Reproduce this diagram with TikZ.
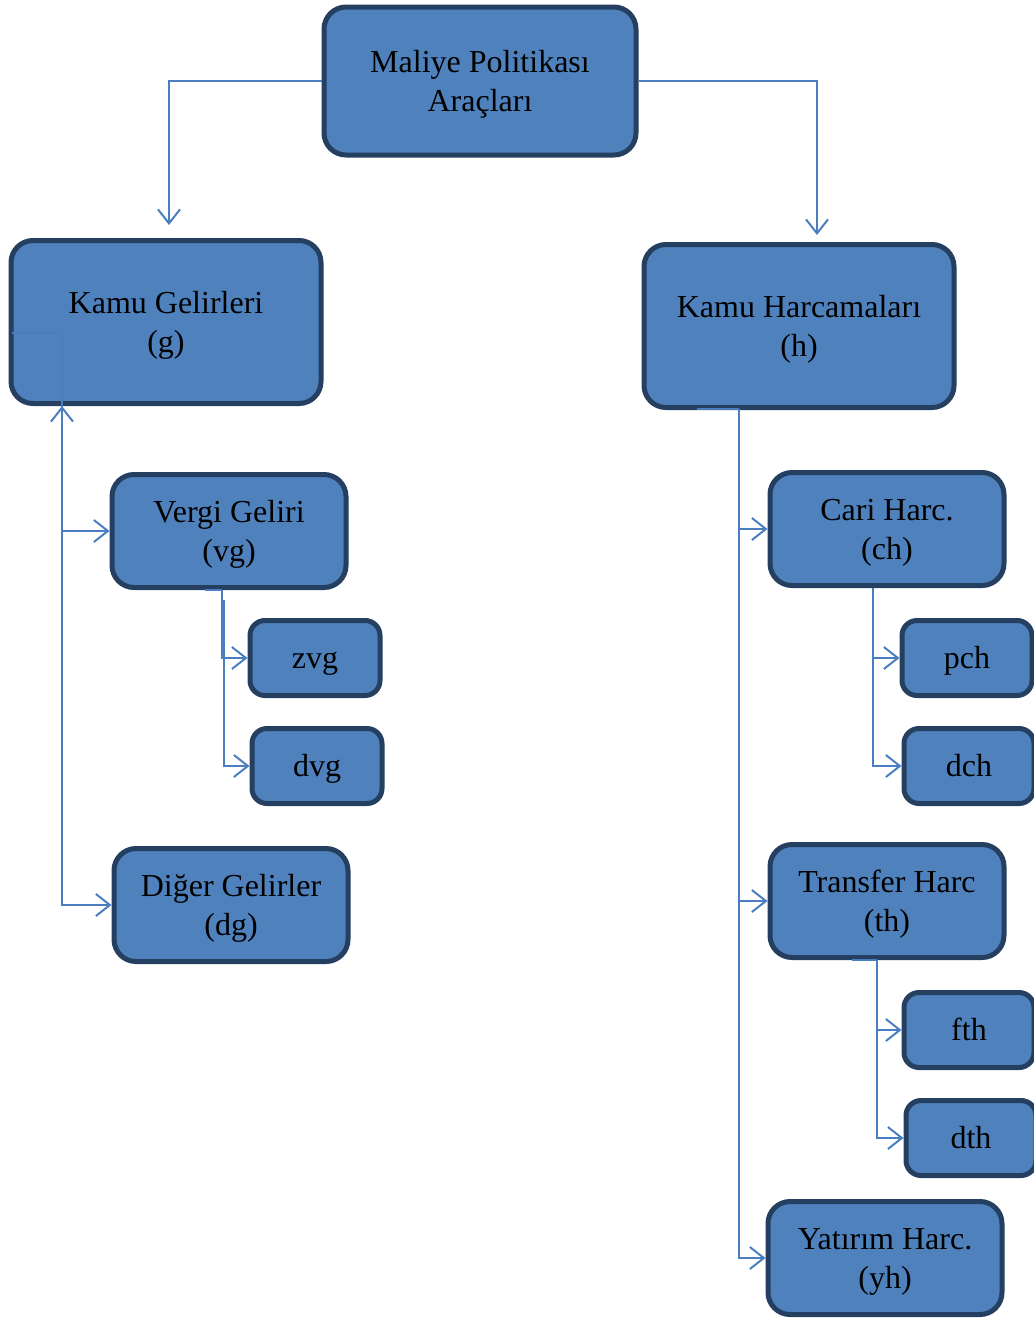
\documentclass[tikz,border=0pt]{standalone}
\usepackage{fontspec}
\setmainfont{Liberation Serif}
\usetikzlibrary{arrows.meta}
\definecolor{boxblue}{HTML}{4F81BD}
\definecolor{boxedge}{HTML}{243F60}
\definecolor{linkblue}{HTML}{4A7EC0}

\begin{document}
\begin{tikzpicture}[x=1pt, y=-1pt,
	every node/.style={font=\fontsize{32}{39}\selectfont, align=center},
	box/.style={draw=boxedge, fill=boxblue, line width=5pt, rounded corners=22pt,
		minimum width=234pt, minimum height=113pt, text height=67.5pt, text depth=7pt},
	bigbox/.style={box, minimum width=310pt, minimum height=163pt},
	smallbox/.style={box, rounded corners=15pt, minimum width=130pt, minimum height=75pt,
		text height=28.5pt},
	line/.style={draw=linkblue, line width=2pt},
	link/.style={line, -{Straight Barb[length=14pt, width=22pt, line width=2pt]}}]
				\useasboundingbox (0,0) rectangle (1034,1318);

				% top
				\node[bigbox, minimum width=312pt, minimum height=148pt] (mp) at (480,81) {Maliye Politikası\\Araçları};

				% gelirler
				\node[bigbox] (kg) at (166,322) {Kamu Gelirleri\\(g)};
				\node[box] (vg) at (229,531) {Vergi Geliri\\(vg)};
				\node[smallbox] (zvg) at (315,658) {zvg};
				\node[smallbox] (dvg) at (317,766) {dvg};
				\node[box] (dg) at (231,905) {Diğer Gelirler\\(dg)};

				% harcamalar
				\node[bigbox] (kh) at (799,326) {Kamu Harcamaları\\(h)};
				\node[box] (ch) at (887,529) {Cari Harc.\\(ch)};
				\node[smallbox] (pch) at (967,658) {pch};
				\node[smallbox] (dch) at (969,766) {dch};
				\node[box] (th) at (887,901) {Transfer Harc\\(th)};
				\node[smallbox] (fth) at (969,1030) {fth};
				\node[smallbox] (dth) at (971,1138) {dth};
				\node[box] (yh) at (885,1258) {Yatırım Harc.\\(yh)};

				\coordinate (kgt) at (169,225);
				\coordinate (kht) at (817,235);
				\coordinate (kgin) at (12,333);
				\coordinate (kgb) at (62,406);
				\coordinate (vgl) at (205,590);
				\coordinate (vgb) at (222,590);
				\coordinate (vgc) at (224,600);
				\coordinate (khl) at (697,409);
				\coordinate (khb) at (739,409);
				\coordinate (chb) at (873,588);
				\coordinate (thl) at (852,960);
				\coordinate (thb) at (877,960);

				\draw[link] (mp.west) -| (kgt);
				\draw[link] (mp.east) -| (kht);

				\draw[line] (kgin) -| (kgb);
				\draw[link, {Straight Barb[length=14pt, width=22pt, line width=2pt]}-] (kgb) -- (kgb |- vg.west);
				\draw[link] (kgb) |- (vg.west);
				\draw[link] (kgb) |- (dg.west);

				\draw[line] (vgl) -- (vgb);
				\draw[link] (vgb) |- (zvg.west);
				\draw[link] (vgc) |- (dvg.west);

				\draw[line] (khl) -- (khb);
				\draw[link] (khb) |- (ch.west);
				\draw[link] (khb) |- (th.west);
				\draw[link] (khb) |- (yh.west);

				\draw[link] (chb) |- (pch.west);
				\draw[link] (chb) |- (dch.west);

				\draw[line] (thl) -- (thb);
				\draw[link] (thb) |- (fth.west);
				\draw[link] (thb) |- (dth.west);
\end{tikzpicture}
\end{document}
